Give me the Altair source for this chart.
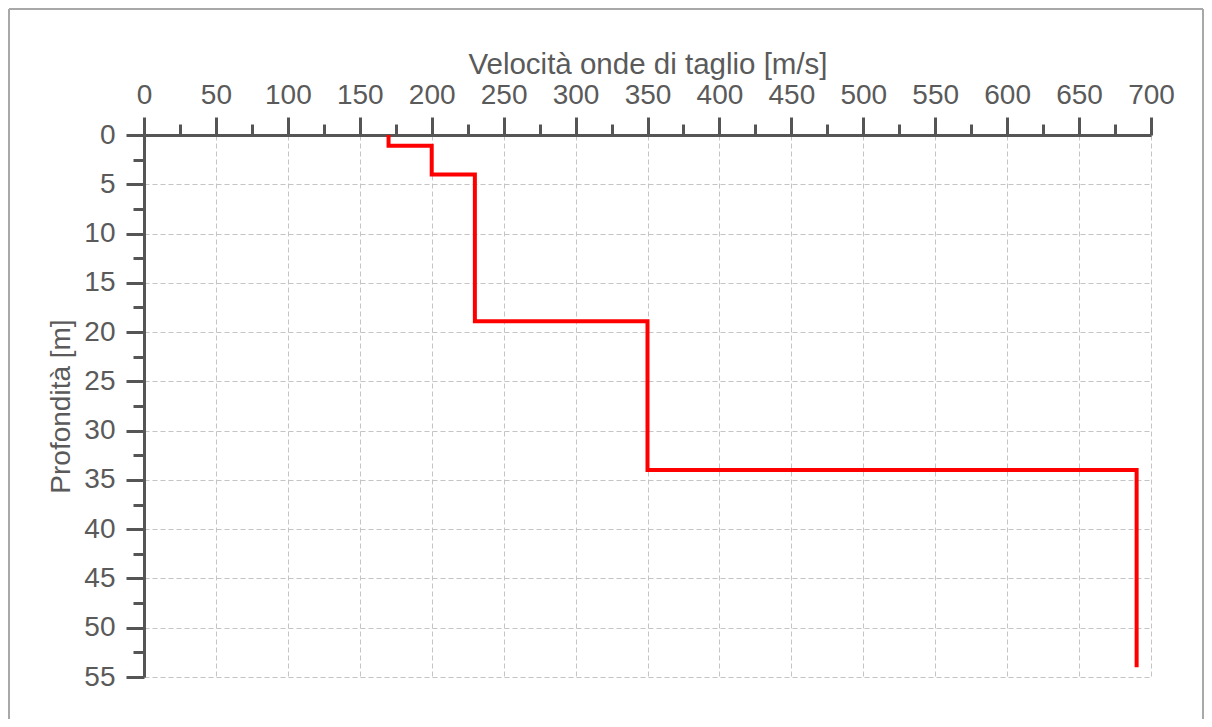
import altair as alt
import pandas as pd

# Shear-wave velocity profile (layers)
velocity = [170, 200, 230, 350, 690]          # m/s
top_depth = [0.0, 1.1, 4.0, 18.9, 34.0]       # m
bottom_depth = [1.1, 4.0, 18.9, 34.0, 54.0]   # m

x_major = list(range(0, 701, 50))
x_minor = [v + 25 for v in range(0, 700, 50)]
y_major = list(range(0, 56, 5))
y_minor = [v + 2.5 for v in range(0, 55, 5)]

rows = []
i = 0
for v, t, b in zip(velocity, top_depth, bottom_depth):
    rows.append({"v": v, "d": t, "i": i}); i += 1
    rows.append({"v": v, "d": b, "i": i}); i += 1
df = pd.DataFrame(rows)

FONT = "Liberation Sans"
TXT = "#5a5a5a"
AX = "#555555"

xscale = alt.Scale(domain=[0, 700], nice=False, zero=False)
yscale = alt.Scale(domain=[0, 55], nice=False, reverse=True)

x_axis_major = alt.Axis(
    orient="top", values=x_major, title="Velocità onde di taglio [m/s]",
    tickSize=18, tickWidth=3, tickColor=AX, domainColor=AX, domainWidth=3,
    labelFont=FONT, labelFontSize=28, labelColor=TXT, labelPadding=8,
    labelFlush=False, labelOverlap=False, labelBound=False,
    titleFont=FONT, titleFontSize=29.5, titleFontWeight="normal", titleColor=TXT,
    titlePadding=2, grid=True, gridColor="#c4c4c4", gridDash=[5, 3], gridWidth=1,
)
y_axis_major = alt.Axis(
    orient="left", values=y_major, title="Profondità [m]",
    tickSize=18, tickWidth=3, tickColor=AX, domainColor=AX, domainWidth=3,
    labelFont=FONT, labelFontSize=28, labelColor=TXT, labelPadding=11,
    labelFlush=False, labelOverlap=False, labelBound=False,
    titleFont=FONT, titleFontSize=28, titleFontWeight="normal", titleColor=TXT,
    titlePadding=8, grid=True, gridColor="#c4c4c4", gridDash=[5, 3], gridWidth=1,
)
x_axis_minor = alt.Axis(
    orient="top", values=x_minor, title=None, labels=False, domain=False,
    grid=False, tickSize=11, tickWidth=3, tickColor=AX,
)
y_axis_minor = alt.Axis(
    orient="left", values=y_minor, title=None, labels=False, domain=False,
    grid=False, tickSize=11, tickWidth=3, tickColor=AX,
)

line = alt.Chart(df).mark_line(
    color="#ff0000", strokeWidth=4, strokeJoin="miter", strokeCap="butt"
).encode(
    x=alt.X("v:Q", scale=xscale, axis=x_axis_major),
    y=alt.Y("d:Q", scale=yscale, axis=y_axis_major),
    order="i:O",
)

minor = alt.Chart(df).mark_point(opacity=0).encode(
    x=alt.X("v:Q", scale=xscale, axis=x_axis_minor),
    y=alt.Y("d:Q", scale=yscale, axis=y_axis_minor),
)

one = alt.Data(values=[{"a": 1}])
frame_left = alt.Chart(one).mark_rule(color="#a8a8a8", strokeWidth=2).encode(
    x=alt.value(-135), y=alt.value(-126), y2=alt.value(700)
)
frame_top = alt.Chart(one).mark_rule(color="#a8a8a8", strokeWidth=2).encode(
    x=alt.value(-135), x2=alt.value(1059), y=alt.value(-126)
)
frame_right = alt.Chart(one).mark_rule(color="#a8a8a8", strokeWidth=2).encode(
    x=alt.value(1059), y=alt.value(-126), y2=alt.value(700)
)

chart = alt.layer(line, minor, frame_left, frame_top, frame_right).resolve_axis(
    x="independent", y="independent"
).properties(
    width=1007, height=542,
    autosize=alt.AutoSizeParams(type="none"),
    padding={"left": 136, "top": 127, "right": 53, "bottom": 42},
    background="white",
).configure_view(stroke=None)

chart.save("out.html", embed_options={"renderer": "svg", "actions": False})
